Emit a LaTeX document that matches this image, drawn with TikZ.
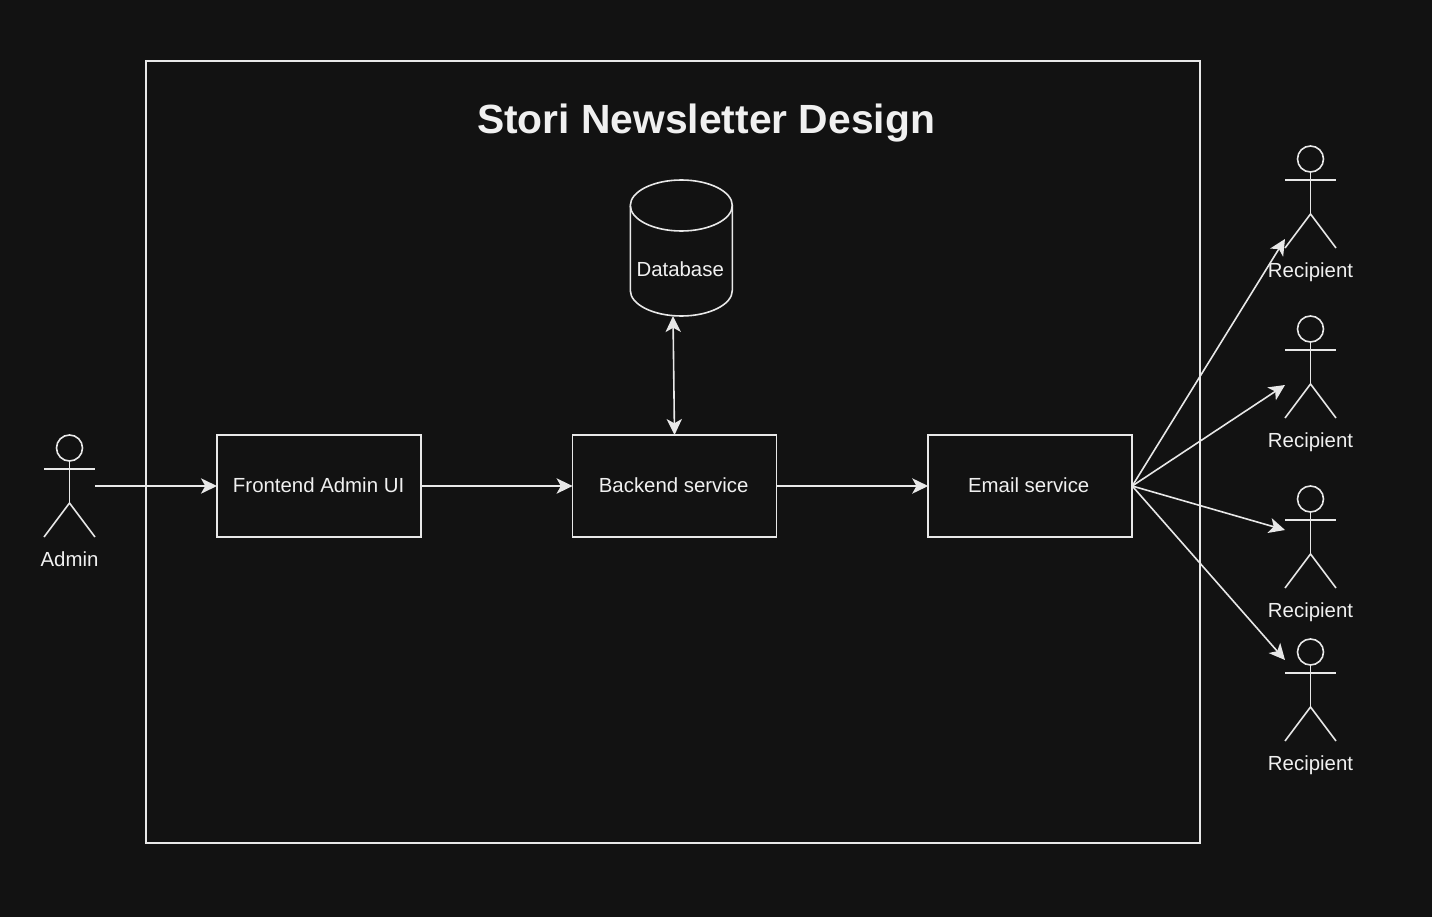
\documentclass[tikz,border=0pt]{standalone}
\usepackage{fontspec}
\setmainfont{Liberation Sans}
\usepackage{tikz}
\usetikzlibrary{arrows.meta}
\usetikzlibrary{positioning}

\definecolor{canvas}{HTML}{121212}
\definecolor{ink}{HTML}{E8E8E8}
\definecolor{lettering}{HTML}{F0F0F0}

% stick figure: name, x, y of its top, caption
\newcommand{\actor}[4]{
    \begin{scope}[shift={(#2,#3)}]
        \node[actorbox] (#1) at (0,51) {};
        \draw (0,13) circle [radius=13*0.75pt];
        \draw (0,26) -- (0,68);
        \draw (-25.5,34) -- (25.5,34);
        \draw (#1.south west) -- (0,68) -- (#1.south east);
        \node[actorname] (#1label) at (0,131) {#4};
    \end{scope}
}

\begin{document}
\begin{tikzpicture}[x=0.75pt,y=-0.75pt,>={Stealth[length=12pt,width=11.5pt,inset=3.2pt]},line width=1.2pt,draw=ink,text=lettering,node distance=113.7pt]
    \tikzstyle{every node}=[font=\fontsize{15.3}{18}\selectfont,outer sep=0pt]
    \tikzstyle{service}=[draw,rectangle,minimum width=153pt,minimum height=76.5pt,inner sep=0pt]
    \tikzstyle{actorbox}=[rectangle,minimum width=38.25pt,minimum height=76.5pt,inner sep=0pt]
    \tikzstyle{caption}=[inner sep=0pt]
    \tikzstyle{actorname}=[inner sep=0pt,anchor=base]
    \tikzstyle{link}=[->]
    \tikzstyle{both}=[<->]

    % background and frame
    \fill[canvas] (0,0) rectangle (1432,917);
    \useasboundingbox (0,0) rectangle (1432,917);
    \node[draw,rectangle,minimum width=790.5pt,minimum height=586.5pt,inner sep=0pt] (frame) at (673,452) {};
    \node[inner sep=0pt,font=\fontsize{30.6}{36}\selectfont\bfseries] (title) at (706,123) {Stori Newsletter Design};

    % services
    \node[service] (frontend) at (319,486) {};
    \node[service] (backend) [right=of frontend] {};
    \node[service] (email) [right=of backend] {};
    \node[caption] (frontendlabel) at (318.6,485) {Frontend Admin UI};
    \node[caption] (backendlabel) at (673.7,485) {Backend service};
    \node[caption] (emaillabel) at (1028.7,485) {Email service};

    % database
    \node[rectangle,minimum width=76.5pt,minimum height=102pt,inner sep=0pt] (database) at (681.3,248) {};
    \draw (630.3,205.5) .. controls (630.3,191.5) and (653.3,180) .. (681.3,180) .. controls (709.3,180) and (732.3,191.5) .. (732.3,205.5)
        -- (732.3,290.5) .. controls (732.3,304.5) and (709.3,316) .. (681.3,316) .. controls (653.3,316) and (630.3,304.5) .. (630.3,290.5) -- cycle;
    \draw (630.3,205.5) .. controls (630.3,219.5) and (653.3,231) .. (681.3,231) .. controls (709.3,231) and (732.3,219.5) .. (732.3,205.5);
    \node[caption] (databaselabel) at (680.2,269) {Database};

    % people
    \actor{admin}{69.5}{435}{Admin}
    \actor{recipienta}{1310.5}{146}{Recipient}
    \actor{recipientb}{1310.5}{316}{Recipient}
    \actor{recipientc}{1310.5}{486}{Recipient}
    \actor{recipientd}{1310.5}{639}{Recipient}

    % free ends
    \coordinate (dbport) at (673,316);
    \coordinate (backendtop) at (674.5,435);
    \coordinate (ina) at (1285,239);
    \coordinate (inb) at (1285,385);
    \coordinate (inc) at (1285,530);
    \coordinate (ind) at (1285,660);

    % connectors
    \draw[link] (admin.east) -- (frontend.west);
    \draw[link] (frontend.east) -- (backend.west);
    \draw[link] (backend.east) -- (email.west);
    \draw[both] (backendtop) -- (dbport);
    \draw[link] (email.east) -- (ina);
    \draw[link] (email.east) -- (inb);
    \draw[link] (email.east) -- (inc);
    \draw[link] (email.east) -- (ind);
\end{tikzpicture}
\end{document}
